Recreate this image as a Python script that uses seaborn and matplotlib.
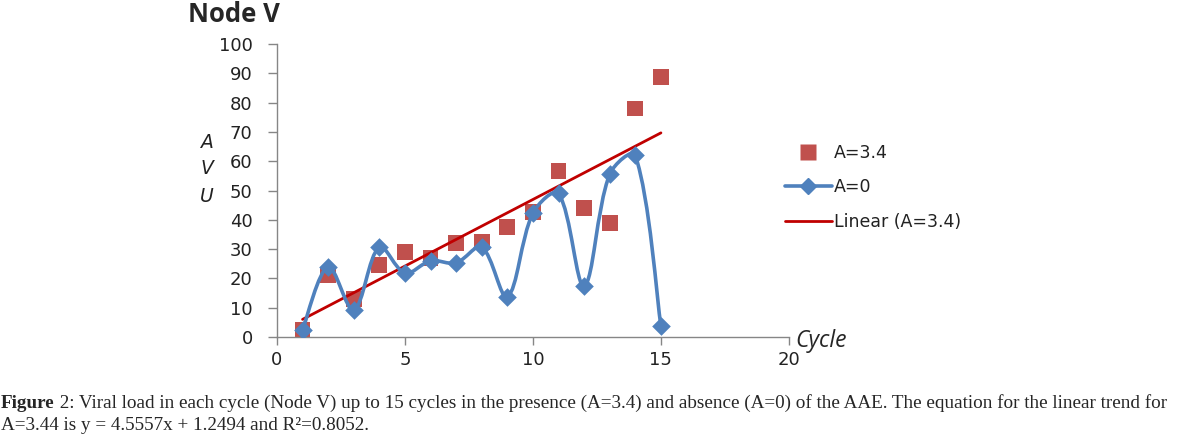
import numpy as np
import pandas as pd
import matplotlib
matplotlib.use('Agg')
import matplotlib.pyplot as plt
from matplotlib.path import Path
from matplotlib.patches import PathPatch
from matplotlib.lines import Line2D
import seaborn as sns

# data
cycles = [1, 2, 3, 4, 5, 6, 7, 8, 9, 10, 11, 12, 13, 14, 15]
avu_a34 = [2.4, 21, 13, 24.5, 29, 27, 32, 32.5, 37.5, 42.6, 56.6, 44, 38.9, 78, 88.7]
avu_a0 = [2.4, 24, 9.2, 30.7, 21.8, 26, 25.3, 30.7, 13.7, 42.3, 49, 17.4, 55.6, 62, 3.7]
x_ticks = [0, 5, 10, 15, 20]
y_ticks = [0, 10, 20, 30, 40, 50, 60, 70, 80, 90, 100]

df = pd.DataFrame({'Cycle': cycles, 'A34': avu_a34, 'A0': avu_a0})

red = '#C0504D'
blue = '#4F81BD'
trend = '#C00000'
grey = '#868686'

sns.set_style('white')
plt.rcParams['font.family'] = ['DejaVu Sans']

fig = plt.figure(figsize=(11.78, 4.41), dpi=100)
ax = fig.add_axes([0.2351, 0.2358, 0.4346, 0.6644])
ax.set_xlim(0, 20)
ax.set_ylim(0, 100)

# smoothed line for A=0, bezier segments like Excel's "smoothed line"
pts = df[['Cycle', 'A0']].to_numpy(dtype=float)
scr = ax.transData.transform(pts)
n = len(pts)
d = np.hypot(*np.diff(scr, axis=0).T)  # screen distance of each segment


def tangent(i):
    a = pts[max(i - 1, 0)]
    b = pts[min(i + 1, n - 1)]
    return b - a


verts = [pts[0]]
codes = [Path.MOVETO]
for i in range(n - 1):
    dprev = d[i - 1] if i > 0 else d[i]
    dnext = d[i + 1] if i + 1 < n - 1 else d[i]
    f1 = d[i] / (dprev + d[i]) / 3
    f2 = d[i] / (d[i] + dnext) / 3
    if i == 0:
        f1 = 1 / 6
    if i == n - 2:
        f2 = 1 / 6
    c1 = pts[i] + tangent(i) * f1
    c2 = pts[i + 1] - tangent(i + 1) * f2
    verts += [c1, c2, pts[i + 1]]
    codes += [Path.CURVE4] * 3
ax.add_patch(PathPatch(Path(verts, codes), facecolor='none', edgecolor=blue, lw=2.6, zorder=3))

sns.scatterplot(data=df, x='Cycle', y='A0', marker='D', s=90, color=blue,
                edgecolor=blue, linewidth=0, ax=ax, zorder=4)
sns.scatterplot(data=df, x='Cycle', y='A34', marker='s', s=130, color=red,
                edgecolor='none', linewidth=0, ax=ax, zorder=2)
sns.regplot(data=df, x='Cycle', y='A34', scatter=False, ci=None, truncate=True,
            line_kws={'color': trend, 'lw': 2}, ax=ax)

ax.set_xlim(0, 20)
ax.set_ylim(0, 100)
ax.set_xticks(x_ticks)
ax.set_yticks(y_ticks)
ax.set_xlabel('')
ax.set_ylabel('')
for s in ['top', 'right']:
    ax.spines[s].set_visible(False)
for s in ['left', 'bottom']:
    ax.spines[s].set_color(grey)
    ax.spines[s].set_linewidth(1)
ax.tick_params(axis='y', direction='out', length=6.5, width=1, color=grey,
               pad=11, labelsize=13, labelcolor='#222222', left=True)
ax.tick_params(axis='x', direction='out', length=6, width=1, color=grey,
               pad=4, labelsize=13, labelcolor='#222222', bottom=True)

# title and axis labels
fig.text(188 / 1178, 1 - 15 / 441, 'Node V', fontsize=18.5, fontweight='bold',
         family='Open Sans', va='center', ha='left')
for letter, ypx in zip(['A', 'V', 'U'], [143, 168, 196]):
    fig.text(207 / 1178, 1 - ypx / 441, letter, fontsize=13.5, style='italic',
             va='center', ha='center', color='#222222')
fig.text(795 / 1178, 1 - 341 / 441, 'Cycle', fontsize=16.5, style='italic',
         family='Open Sans', va='center', ha='left')

# legend
handles = [
    Line2D([], [], ls='none', marker='s', ms=11, color=red, mec='none'),
    Line2D([], [], color=blue, lw=2.6, marker='D', ms=8, mec=blue),
    Line2D([], [], color=trend, lw=2),
]
fig.legend(handles, ['A=3.4', 'A=0', 'Linear (A=3.4)'], loc='upper left',
           bbox_to_anchor=(785 / 1178, 1 - 144 / 441), frameon=False,
           borderpad=0, borderaxespad=0,
           prop={'size': 12.5}, handlelength=2.7, handletextpad=0.1, labelspacing=0.95,
           labelcolor='#222222')

# caption
fig.canvas.draw()
r = fig.canvas.get_renderer()
cap_kw = dict(fontsize=13.8, family='Liberation Serif', va='center', ha='left')
t = fig.text(1 / 1178, 1 - 403 / 441, 'Figure', fontweight='bold', **cap_kw)
w = t.get_window_extent(r).width
fig.text((1 + w) / 1178, 1 - 403 / 441,
         ' 2: Viral load in each cycle (Node V) up to 15 cycles in the presence (A=3.4) '
         'and absence (A=0) of the AAE. The equation for the linear trend for', **cap_kw)
fig.text(1 / 1178, 1 - 425 / 441,
         'A=3.44 is y = 4.5557x + 1.2494 and R\u00b2=0.8052.', **cap_kw)

fig.savefig('out.png', dpi=100)
